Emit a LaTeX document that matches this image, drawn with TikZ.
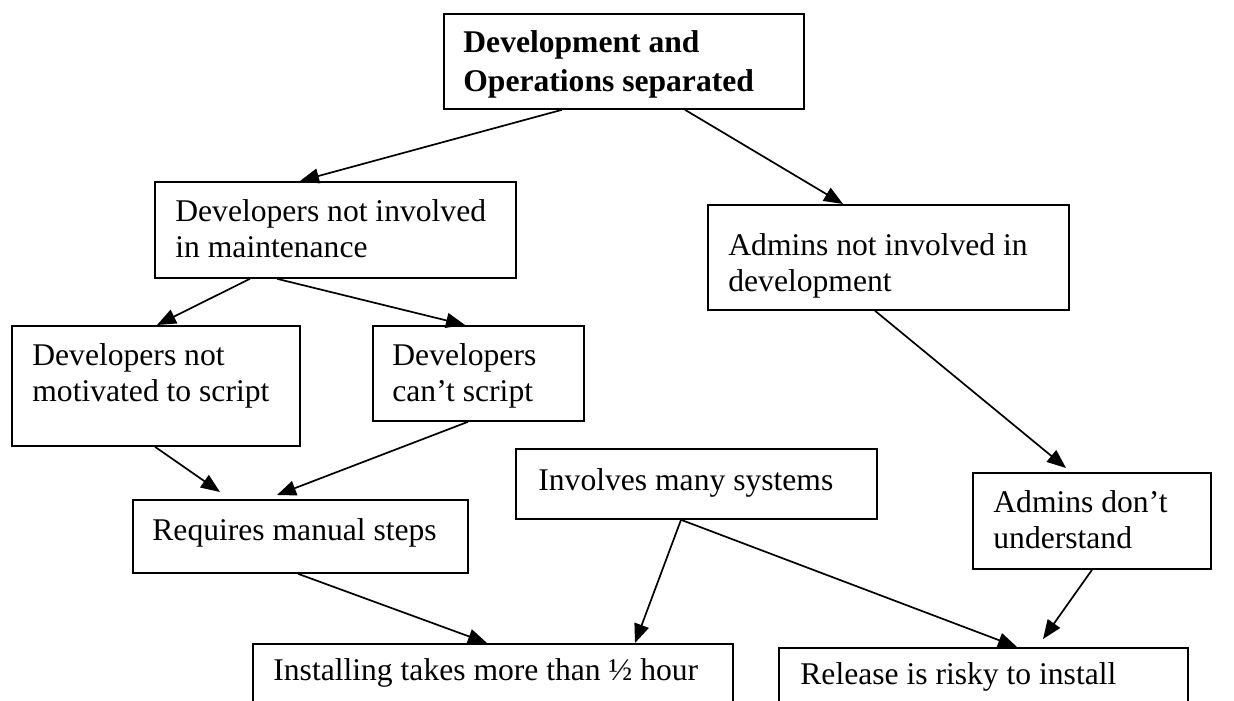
\documentclass[tikz,border=0pt]{standalone}
\usepackage{fontspec}
\setmainfont{Liberation Serif}
\usetikzlibrary{calc,arrows.meta}
\tikzset{
  boxnode/.style={draw, line width=0.9pt, rectangle, inner sep=0pt, anchor=north west},
  txtnode/.style={anchor=base west, inner sep=0pt, font=\fontsize{15.8}{18}\selectfont},
  arr/.style={line width=0.85pt, -{Triangle[length=9.5pt,width=7.5pt]}}
}
\newcommand{\twolines}[2]{\vtop{\hbox{#1}\hbox{#2}}}
\begin{document}
\begin{tikzpicture}[x=0.5pt,y=-0.5pt]
\useasboundingbox (0,0) rectangle (1234,700);
% boxes
\node[boxnode, minimum width=180pt, minimum height=47.5pt] (b1) at (443,13) {};
\node[boxnode, minimum width=180.5pt, minimum height=48pt] (b2) at (154,181) {};
\node[boxnode, minimum width=180.5pt, minimum height=52.5pt] (b3) at (707,204) {};
\node[boxnode, minimum width=144pt, minimum height=60pt] (b4) at (11,325) {};
\node[boxnode, minimum width=105.5pt, minimum height=47.5pt] (b5) at (372,325) {};
\node[boxnode, minimum width=167.5pt, minimum height=36.5pt] (b6) at (132,499) {};
\node[boxnode, minimum width=180.5pt, minimum height=35pt] (b7) at (515,448) {};
\node[boxnode, minimum width=119pt, minimum height=48pt] (b8) at (972,472) {};
\node[boxnode, minimum width=240pt, minimum height=40pt] (b9) at (252,643) {};
\node[boxnode, minimum width=204.5pt, minimum height=40pt] (b10) at (778,647) {};
% texts
\node[txtnode, font=\fontsize{15.8}{19.5}\selectfont\bfseries] (t1) at (463,53) {\twolines{Development and}{Operations separated}};
\node[txtnode] (t2) at (175,221) {\twolines{Developers not involved}{in maintenance}};
\node[txtnode] (t3) at (728,255) {\twolines{Admins not involved in}{development}};
\node[txtnode] (t4) at (32,365) {\twolines{Developers not}{motivated to script}};
\node[txtnode] (t5) at (392,365) {\twolines{Developers}{can’t script}};
\node[txtnode] (t6) at (152,540) {Requires manual steps};
\node[txtnode] (t7) at (538,490) {Involves many systems};
\node[txtnode] (t8) at (993,512) {\twolines{Admins don’t}{understand}};
\node[txtnode] (t9) at (273,680) {Installing takes more than ½ hour};
\node[txtnode] (t10) at (800,684) {Release is risky to install};
% arrows
\draw[arr] ($(b1.south west)+(119,0)$) -- ($(b2.north west)+(146,0)$);
\draw[arr] ($(b1.south west)+(242,0)$) -- ($(b3.north west)+(136,0)$);
\draw[arr] ($(b2.south west)+(96,0)$) -- ($(b4.north west)+(146,0)$);
\draw[arr] ($(b2.south west)+(123,0)$) -- ($(b5.north west)+(93,0)$);
\draw[arr] ($(b3.south west)+(168,0)$) -- ($(b8.north west)+(94,-4)$);
\draw[arr] ($(b4.south west)+(144,0)$) -- ($(b6.north west)+(88,-7)$);
\draw[arr] ($(b5.south west)+(96,0)$) -- ($(b6.north west)+(145,-4)$);
\draw[arr] ($(b6.south west)+(166,0)$) -- ($(b9.north west)+(235,0)$);
\draw[arr] ($(b7.south west)+(166,0)$) -- ($(b9.north west)+(383,0)$);
\draw[arr] ($(b7.south west)+(166,0)$) -- ($(b10.north west)+(239,0)$);
\draw[arr] ($(b8.south west)+(120,0)$) -- ($(b10.north west)+(265,-8)$);
\end{tikzpicture}
\end{document}
